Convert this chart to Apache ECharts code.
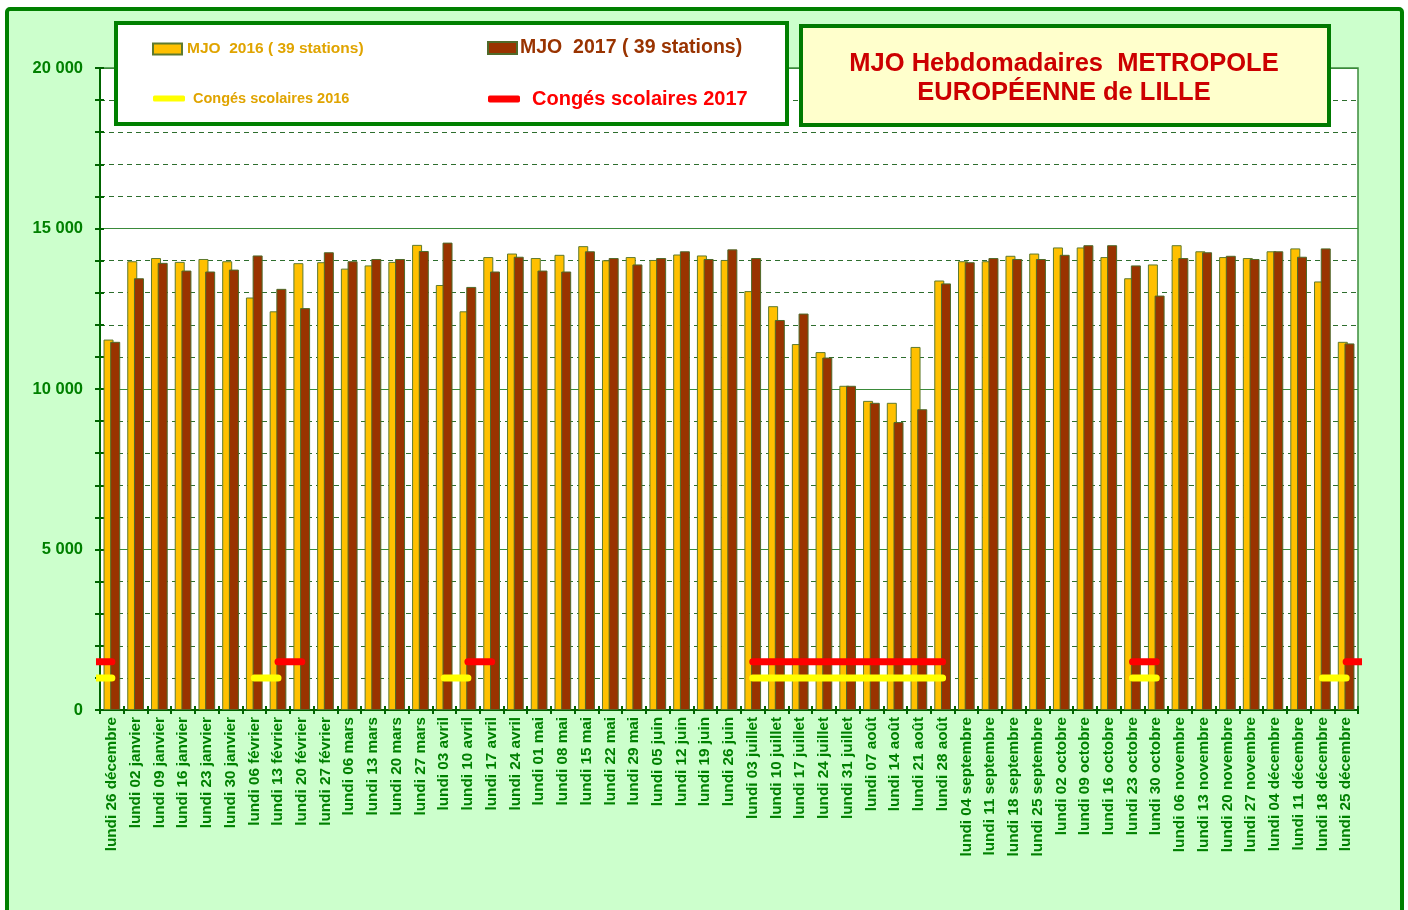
<!DOCTYPE html>
<html>
<head>
<meta charset="utf-8">
<script src="https://cdn.jsdelivr.net/npm/echarts@6/dist/echarts.min.js"></script>
<style>
html,body{margin:0;padding:0;background:#ffffff;}
#c{width:1408px;height:910px;}
</style>
</head>
<body>
<div id="c"></div>
<script>
// ---- data ----
var weeks = ['lundi 26 décembre','lundi 02 janvier','lundi 09 janvier','lundi 16 janvier','lundi 23 janvier','lundi 30 janvier',
'lundi 06 février','lundi 13 février','lundi 20 février','lundi 27 février','lundi 06 mars','lundi 13 mars','lundi 20 mars',
'lundi 27 mars','lundi 03 avril','lundi 10 avril','lundi 17 avril','lundi 24 avril','lundi 01 mai','lundi 08 mai','lundi 15 mai',
'lundi 22 mai','lundi 29 mai','lundi 05 juin','lundi 12 juin','lundi 19 juin','lundi 26 juin','lundi 03 juillet','lundi 10 juillet',
'lundi 17 juillet','lundi 24 juillet','lundi 31 juillet','lundi 07 août','lundi 14 août','lundi 21 août','lundi 28 août',
'lundi 04 septembre','lundi 11 septembre','lundi 18 septembre','lundi 25 septembre','lundi 02 octobre','lundi 09 octobre',
'lundi 16 octobre','lundi 23 octobre','lundi 30 octobre','lundi 06 novembre','lundi 13 novembre','lundi 20 novembre',
'lundi 27 novembre','lundi 04 décembre','lundi 11 décembre','lundi 18 décembre','lundi 25 décembre'];

var mjo2016 = [11540,13980,14080,13960,14050,13980,12850,12420,13920,13950,13750,13850,13960,14490,13240,12420,14110,14220,
14080,14180,14450,14010,14110,14020,14190,14160,14020,13050,12580,11400,11150,10100,9630,9570,11310,13380,13980,13980,14150,
14220,14410,14410,14110,13450,13880,14480,14290,14110,14080,14290,14380,13350,11470];

var mjo2017 = [11470,13450,13930,13690,13660,13720,14160,13120,12520,14260,13980,14050,14050,14300,14560,13180,13660,14120,
13690,13660,14290,14080,13880,14080,14290,14050,14350,14080,12150,12350,10980,10100,9570,8970,9370,13290,13950,14080,14050,
14050,14180,14480,14480,13850,12910,14080,14260,14150,14050,14290,14120,14380,11420];

// school holidays: [first week index, last week index] (0-based, may run past the chart edges)
var conges2016 = [[-1,0],[6,7],[14,15],[27,35],[43,44],[51,52]];
var conges2017 = [[-1,0],[7,8],[15,16],[27,35],[43,44],[52,53]];
var congesLevel2016 = 1000;
var congesLevel2017 = 1500;

var yTickLabels = {0:'0',5000:'5 000',10000:'10 000',15000:'15 000',20000:'20 000'};

var name16 = 'MJO  2016 ( 39 stations)';
var name17 = 'MJO  2017 ( 39 stations)';
var nameC16 = 'Congés scolaires 2016';
var nameC17 = 'Congés scolaires 2017';

function segs(ranges, level){
  var out = [];
  ranges.forEach(function(r, i){
    if (i > 0) out.push(null);
    out.push([r[0] + 0.5, level]);
    out.push([r[1] + 0.5, level]);
  });
  return out;
}

var FONT = "'Liberation Sans', Arial, sans-serif";
var chart = echarts.init(document.getElementById('c'), null, {renderer:'canvas'});

var option = {
  animation: false,
  backgroundColor: '#ffffff',
  textStyle: {fontFamily: FONT},
  graphic: [
    {type:'rect', z:-10, shape:{x:7, y:9, width:1395, height:930, r:3},
     style:{fill:'#CCFFCC', stroke:'#008000', lineWidth:4}},
    {type:'rect', z:50, shape:{x:116, y:23, width:671, height:101},
     style:{fill:'#ffffff', stroke:'#008000', lineWidth:4}},
    {type:'rect', z:50, shape:{x:801, y:26, width:528, height:99},
     style:{fill:'#FFFFCC', stroke:'#007A00', lineWidth:4}}
  ],
  title: {
    text: 'MJO Hebdomadaires  METROPOLE\nEUROPÉENNE de LILLE',
    left: 1064, top: 49, textAlign: 'center', padding: 0, z: 60,
    textStyle: {color:'#CC0000', fontSize:25.5, fontWeight:'bold', fontFamily:FONT, lineHeight:29}
  },
  legend: [
    {data:[{name:name16, icon:'rect'}], left:152, top:41, padding:0, itemWidth:29, itemHeight:11, z:60, selectedMode:false,
     textStyle:{color:'#E0A400', fontSize:15.5, fontWeight:'bold', fontFamily:FONT}},
    {data:[{name:name17, icon:'rect'}], left:487, top:38, padding:0, itemWidth:29, itemHeight:12, z:60, selectedMode:false,
     textStyle:{color:'#993300', fontSize:19.5, fontWeight:'bold', fontFamily:FONT, padding:[0,0,0,-2]}},
    {data:[{name:nameC16, icon:'roundRect'}], left:153, top:91, padding:0, itemWidth:32, itemHeight:6, z:60, selectedMode:false,
     textStyle:{color:'#E0A400', fontSize:14.5, fontWeight:'bold', fontFamily:FONT, padding:[0,0,0,3]}},
    {data:[{name:nameC17, icon:'roundRect'}], left:488, top:89, padding:0, itemWidth:32, itemHeight:7, z:60, selectedMode:false,
     textStyle:{color:'#FF0000', fontSize:20, fontWeight:'bold', fontFamily:FONT, padding:[0,0,0,7]}}
  ],
  grid: {left:100, top:68, right:50, bottom:200, show:true, backgroundColor:'#ffffff',
         borderColor:'#3C8C3C', borderWidth:1.5},
  xAxis: [
    {type:'category', data:weeks, position:'bottom',
     axisLine:{show:true, lineStyle:{color:'#006400', width:2}},
     axisTick:{show:true, length:4, interval:0, alignWithLabel:false, lineStyle:{color:'#006400', width:2}},
     axisLabel:{interval:0, rotate:90, margin:7, color:'#008000', fontSize:15.3, fontWeight:'bold', fontFamily:FONT},
     splitLine:{show:false}},
    {type:'category', data:weeks, position:'bottom',
     axisLine:{show:false},
     axisTick:{show:true, inside:true, length:4, interval:0, lineStyle:{color:'#006400', width:2}},
     axisLabel:{show:false}, splitLine:{show:false}},
    {type:'value', min:0, max:weeks.length, position:'bottom', show:false}
  ],
  yAxis: [
    {type:'value', min:0, max:20000, interval:1000, position:'left',
     axisLine:{show:true, lineStyle:{color:'#006400', width:2}},
     axisTick:{show:true, length:5, lineStyle:{color:'#006400', width:2}},
     axisLabel:{show:false},
     splitLine:{show:true, lineStyle:{color:'#2E6E2E', width:1, type:[5,4]}}},
    {type:'value', min:0, max:20000, interval:1000, position:'left',
     axisLine:{show:false},
     axisTick:{show:true, inside:true, length:4, lineStyle:{color:'#006400', width:2}},
     axisLabel:{show:true, margin:17, color:'#008000', fontSize:16.5, fontWeight:'bold', fontFamily:FONT,
       formatter:function(v){ return yTickLabels.hasOwnProperty(v) ? yTickLabels[v] : ''; }},
     splitLine:{show:false}},
    {type:'value', min:0, max:20000, interval:5000, position:'left',
     axisLine:{show:false}, axisTick:{show:false}, axisLabel:{show:false},
     splitLine:{show:true, lineStyle:{color:'#3A8A3A', width:1.2, type:'solid'}}}
  ],
  series: [
    {name:name16, type:'bar', xAxisIndex:0, yAxisIndex:0, data:mjo2016, barWidth:10, barGap:'-33%',
     itemStyle:{color:'#FFC000', borderColor:'#5E7A2E', borderWidth:1}, z:3},
    {name:name17, type:'bar', xAxisIndex:0, yAxisIndex:0, data:mjo2017, barWidth:10, barGap:'-33%',
     itemStyle:{color:'#993300', borderColor:'#4F6A2A', borderWidth:1}, z:4},
    {name:nameC16, type:'line', xAxisIndex:2, yAxisIndex:0, data:segs(conges2016, congesLevel2016),
     symbol:'none', connectNulls:false, clip:true, z:6,
     itemStyle:{color:'#FFFF00'}, lineStyle:{color:'#FFFF00', width:7, cap:'round'}},
    {name:nameC17, type:'line', xAxisIndex:2, yAxisIndex:0, data:segs(conges2017, congesLevel2017),
     symbol:'none', connectNulls:false, clip:true, z:6,
     itemStyle:{color:'#FF0000'}, lineStyle:{color:'#FF0000', width:7, cap:'round'}}
  ]
};
chart.setOption(option);
</script>
</body>
</html>
